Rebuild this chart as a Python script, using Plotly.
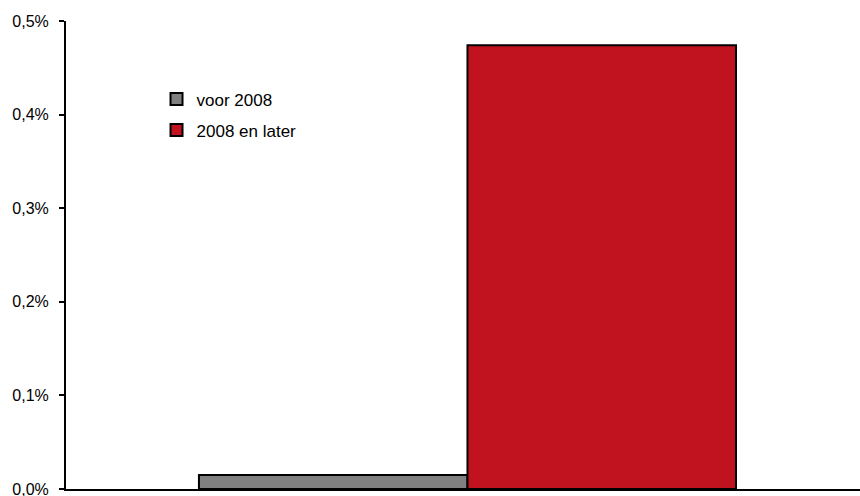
import plotly.graph_objects as go

series_names = ["voor 2008", "2008 en later"]
series_values = [0.00015, 0.00474]
series_colors = ["#808080", "#C1131F"]
tick_vals = [0, 0.001, 0.002, 0.003, 0.004, 0.005]

fig = go.Figure()
for i, (name, val, col) in enumerate(zip(series_names, series_values, series_colors)):
    fig.add_trace(go.Bar(
        x=[0], y=[val], name=name, legendgroup=f"g{i}",
        marker=dict(color=col, line=dict(color="black", width=2)),
    ))

fig.update_layout(
    width=860, height=496,
    margin=dict(l=66, r=0, t=21, b=7, autoexpand=False),
    paper_bgcolor="white", plot_bgcolor="white",
    barmode="group", bargap=0.3333, bargroupgap=0,
    separators=",.",
    font=dict(family="Liberation Sans, Arial, sans-serif", size=16, color="black"),
    showlegend=True,
    legend=dict(x=0.114, y=0.871, xanchor="left", yanchor="top",
                traceorder="grouped", tracegroupgap=6,
                font=dict(size=17), bgcolor="rgba(0,0,0,0)"),
    xaxis=dict(range=[-0.4984, 0.4873], showticklabels=False, ticks="",
               showgrid=False, zeroline=False, showline=True, automargin=False,
               linecolor="black", linewidth=2),
    yaxis=dict(range=[0, 0.005], tickvals=tick_vals, tickformat=".1%",
               showgrid=False, zeroline=False, showline=True, automargin=False,
               linecolor="black", linewidth=2, ticks="outside", ticklen=5,
               tickwidth=1.5, tickcolor="black", tickfont=dict(size=16),
               ticklabeloverflow="allow", ticklabelstandoff=7),
)

fig.write_html("out.html", config={"displayModeBar": False},
               post_script="document.body.style.margin='0';")
